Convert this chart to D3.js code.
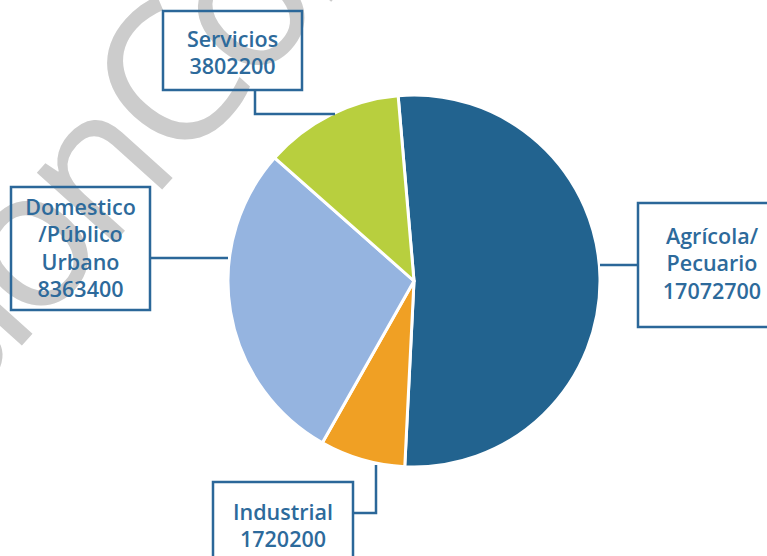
<!DOCTYPE html>
<html>
<head>
<meta charset="utf-8">
<script src="https://cdn.jsdelivr.net/npm/d3@7"></script>
<style>
  html, body { margin: 0; padding: 0; background: #ffffff; }
  svg { display: block; }
</style>
</head>
<body>
<script>
// ---- data ----
const categories = ["Agrícola/Pecuario", "Industrial", "Domestico/Público Urbano", "Servicios"];
const labelLines = [["Agrícola/", "Pecuario"], ["Industrial"], ["Domestico", "/Público", "Urbano"], ["Servicios"]];
const values = [17072700, 1720200, 8363400, 3802200];
// slice shares (%) as drawn in the reference picture
const sliceShares = [52.1, 7.4, 28.3, 12.1];
const colors = ["#22638f", "#f0a024", "#95b4e0", "#b8cf3e"];

const W = 767, H = 556;
const svg = d3.select("body").append("svg").attr("width", W).attr("height", H);

// watermark
const wm = svg.append("g")
  .attr("transform", "translate(178,172) rotate(-48)")
  .attr("font-family", "'Open Sans', sans-serif")
  .attr("font-size", 195)
  .attr("letter-spacing", -14)
  .attr("fill", "#cccccc");
wm.append("text").attr("text-anchor", "end").attr("dx", -6).text("Versión ");
wm.append("text").attr("text-anchor", "start").text("Consulta");

const cx = 414, cy = 281, R = 186;
const pie = d3.pie().sort(null).value(d => d.share)
  .startAngle(-4.9 * Math.PI / 180).endAngle(-4.9 * Math.PI / 180 + 2 * Math.PI);
const arc = d3.arc().innerRadius(0).outerRadius(R);
const data = categories.map((c, i) => ({ cat: c, share: sliceShares[i], value: values[i], color: colors[i], lines: labelLines[i] }));

const g = svg.append("g").attr("transform", `translate(${cx},${cy})`);
g.selectAll("path").data(pie(data)).enter().append("path")
  .attr("d", arc)
  .attr("fill", d => d.data.color)
  .attr("stroke", "#ffffff")
  .attr("stroke-width", 3)
  .attr("stroke-linejoin", "round");

// label boxes
const boxColor = "#2b6799";
const layout = [
  { box: [638, 203, 148, 124], tx: 712, ty: 244, leader: "M600,265 H638" },
  { box: [213, 482, 140, 90], tx: 283, ty: 520, leader: "M353,513 H376 V465" },
  { box: [11, 187, 139, 123], tx: 80.5, ty: 215, leader: "M150,258 H228" },
  { box: [163, 11, 139, 79], tx: 232.5, ty: 47, leader: "M255,90 V114 H335" }
];
const fmt = d3.format("d");
data.forEach((d, i) => {
  const L = layout[i];
  svg.append("path").attr("d", L.leader).attr("fill", "none")
    .attr("stroke", boxColor).attr("stroke-width", 2.5);
  svg.append("rect").attr("x", L.box[0]).attr("y", L.box[1])
    .attr("width", L.box[2]).attr("height", L.box[3])
    .attr("fill", "none").attr("stroke", boxColor).attr("stroke-width", 2.5);
  const t = svg.append("text")
    .attr("font-family", "'Open Sans', sans-serif")
    .attr("font-size", 21.5)
    .attr("font-weight", 600)
    .attr("fill", "#2d6a9b")
    .attr("text-anchor", "middle");
  const lines = d.lines.concat([fmt(d.value)]);
  lines.forEach((ln, k) => {
    t.append("tspan").attr("x", L.tx).attr("y", L.ty + k * 27.3).text(ln);
  });
});
</script>
</body>
</html>
